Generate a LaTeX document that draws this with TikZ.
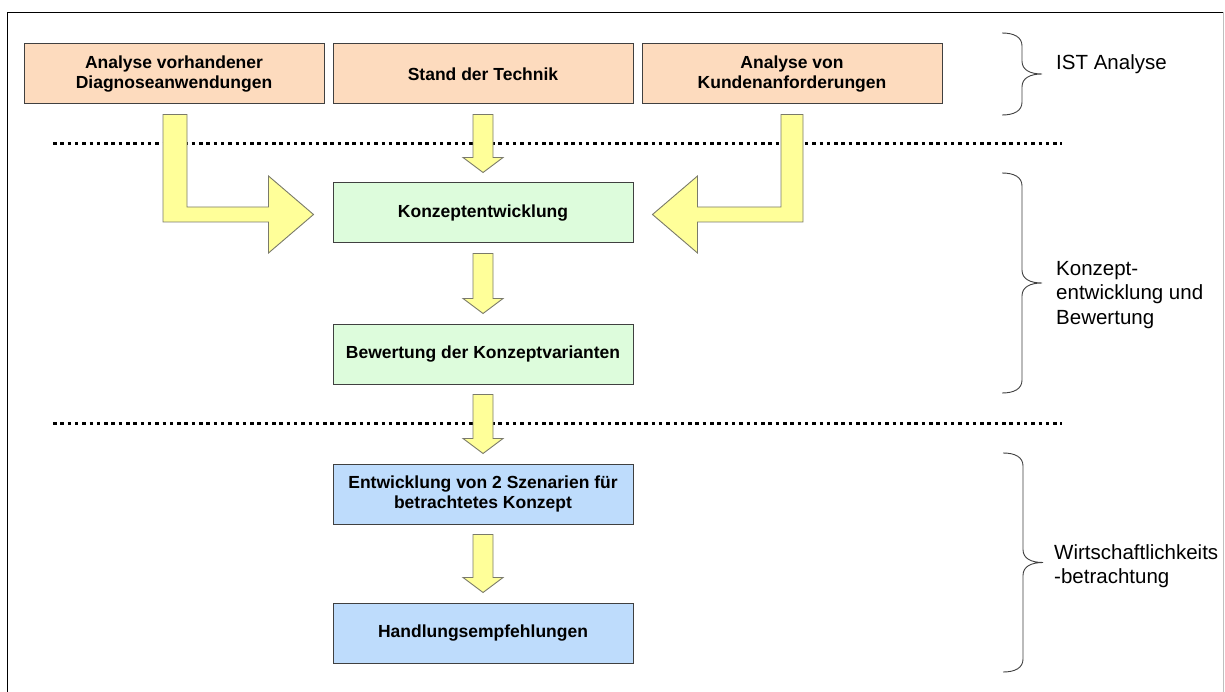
\documentclass[tikz,border=0pt]{standalone}
\usepackage{fontspec}
\setmainfont{Liberation Sans}
\usetikzlibrary{calc}

\definecolor{peach}{HTML}{FDDBBE}
\definecolor{mint}{HTML}{DDFCDC}
\definecolor{sky}{HTML}{BEDCFC}
\definecolor{arrowfill}{HTML}{FFFF99}
\definecolor{boxline}{HTML}{404040}
\definecolor{arrowline}{HTML}{7A7A6A}

% straight block arrow from the bottom of one box to the top of the next
\newcommand\downblock[2]{%
  \draw[blockarrow] ($(#1.south)+(-10,10)$) -- ($(#1.south)+(10,10)$)
    -- ($(#2.north)+(10,-25)$) -- ($(#2.north)+(20,-25)$)
    -- ($(#2.north)+(0,-10)$)
    -- ($(#2.north)+(-20,-25)$) -- ($(#2.north)+(-10,-25)$) -- cycle;}

% curly brace opening to the left: x of the ends, top y, bottom y
\newcommand\sidebrace[3]{%
  \pgfmathsetmacro\bmid{(#2+#3)/2}%
  \draw[bracepath] (#1,#2) .. controls (#1+12,#2) and (#1+20,#2+4) .. (#1+20,#2+13)
    -- (#1+20,\bmid-13) .. controls (#1+20,\bmid-4) and (#1+28,\bmid) .. (#1+40,\bmid)
    .. controls (#1+28,\bmid) and (#1+20,\bmid+4) .. (#1+20,\bmid+13)
    -- (#1+20,#3-13) .. controls (#1+20,#3-4) and (#1+12,#3) .. (#1,#3);}

\begin{document}
\begin{tikzpicture}[x=1pt,y=-1pt,
  stepbox/.style={draw=boxline, line width=1pt, minimum width=300pt,
    minimum height=60pt, inner sep=0pt, align=center,
    font=\fontsize{17.5}{20}\selectfont\bfseries},
  istbox/.style={stepbox, fill=peach},
  conceptbox/.style={stepbox, fill=mint},
  econbox/.style={stepbox, fill=sky},
  blockarrow/.style={draw=arrowline, fill=arrowfill, line width=0.9pt, line join=miter},
  sidelabel/.style={anchor=west, inner sep=0pt, align=left,
    font=\fontsize{20.5}{24.5}\selectfont},
  bracepath/.style={draw=black!75, line width=0.9pt},
  divider/.style={line width=3pt, dash pattern=on 3.5pt off 3.8pt}
]
\useasboundingbox (0,0) rectangle (1225,692);
\fill[white] (0,0) rectangle (1225,692);

% frame
\draw[black, line width=1.3pt] (7.5,692) -- (7.5,12.5) -- (1223.5,12.5);
\draw[black!25, line width=1pt] (1223.5,12.5) -- (1223.5,692);

% phase dividers
\draw[divider] (53,144) -- (1062,144);
\draw[divider] (53,423) -- (1062,423);

% boxes
\node[istbox] (ana)  at (174,74) {Analyse vorhandener\\Diagnoseanwendungen};
\node[istbox] (std)  at (483,74) {Stand der Technik};
\node[istbox] (kund) at (792,74) {Analyse von\\Kundenanforderungen};
\node[conceptbox] (konz) at (483,213) {Konzeptentwicklung};
\node[conceptbox] (bew)  at (483,354) {Bewertung der Konzeptvarianten};
\node[econbox] (szen) at (483,494) {Entwicklung von 2 Szenarien für\\betrachtetes Konzept};
\node[econbox] (hand) at (483,633) {Handlungsempfehlungen};

% straight arrows
\downblock{std}{konz}
\downblock{konz}{bew}
\downblock{bew}{szen}
\downblock{szen}{hand}

% bent arrow from the left box
\draw[blockarrow] ($(ana.south)+(-11,10)$) -- ($(ana.south)+(13,10)$)
  -- ($(ana.south |- konz.west)+(13,-6)$) -- ($(konz.west)+(-64,-6)$)
  -- ($(konz.west)+(-64,-37)$) -- ($(konz.west)+(-19,1.5)$)
  -- ($(konz.west)+(-64,40)$) -- ($(konz.west)+(-64,9)$)
  -- ($(ana.south |- konz.west)+(-11,9)$) -- cycle;

% bent arrow from the right box
\draw[blockarrow] ($(kund.south)+(11,10)$) -- ($(kund.south)+(-11,10)$)
  -- ($(kund.south |- konz.east)+(-11,-6)$) -- ($(konz.east)+(64,-6)$)
  -- ($(konz.east)+(64,-37)$) -- ($(konz.east)+(19,1.5)$)
  -- ($(konz.east)+(64,40)$) -- ($(konz.east)+(64,9)$)
  -- ($(kund.south |- konz.east)+(11,9)$) -- cycle;

% phase braces and labels
\sidebrace{1002}{33}{115}
\sidebrace{1002}{173}{393}
\sidebrace{1003}{453}{672}
\node[sidelabel] (lab1) at (1056,64.5) {IST Analyse};
\node[sidelabel] (lab2) at (1056,295) {Konzept-\\entwicklung und\\Bewertung};
\node[sidelabel] (lab3) at (1054,566) {Wirtschaftlichkeits\\-betrachtung};
\end{tikzpicture}
\end{document}
